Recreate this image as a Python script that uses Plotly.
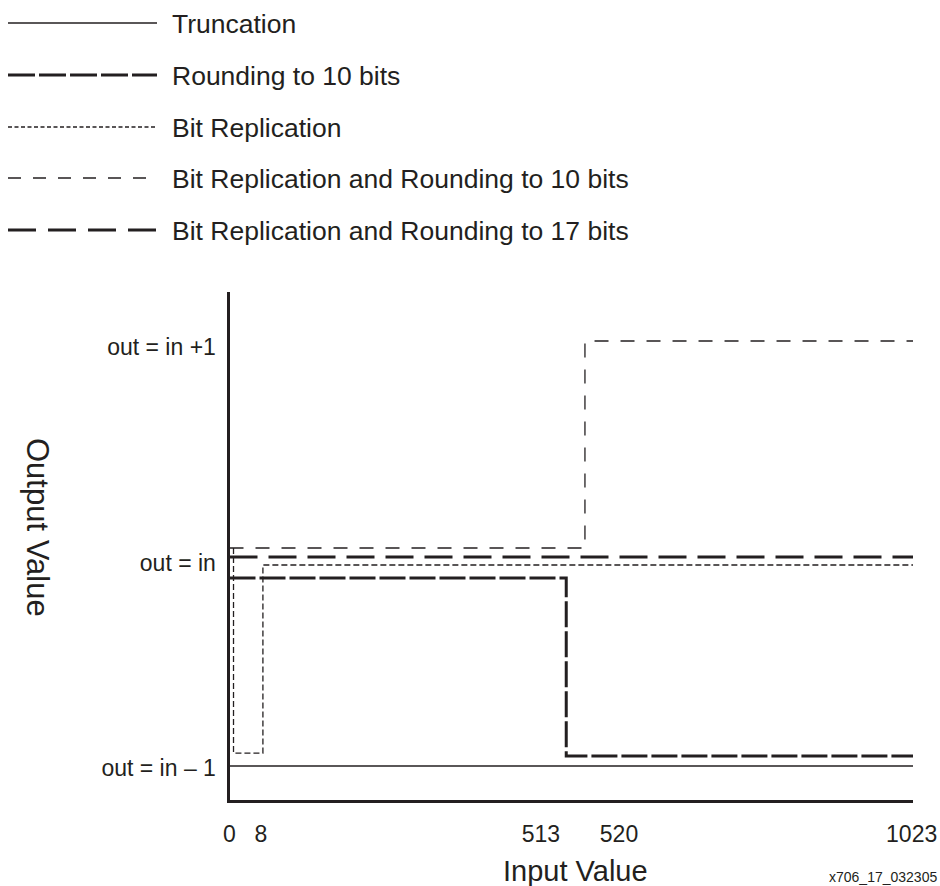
import plotly.graph_objects as go

# ---------------- data (schematic values) ----------------
series_names = [
    "Truncation",
    "Rounding to 10 bits",
    "Bit Replication",
    "Bit Replication and Rounding to 10 bits",
    "Bit Replication and Rounding to 17 bits",
]

truncation_x = [0, 1023]
truncation_y = [-1.0, -1.0]

rounding10_x = [0, 504, 504, 1023]
rounding10_y = [-0.115, -0.115, -0.953, -0.953]

bitrep_x = [6, 6, 50, 50, 1023]
bitrep_y = [0.026, -0.939, -0.939, -0.054, -0.054]

bitrep_r10_x = [0, 532, 532, 1023]
bitrep_r10_y = [0.026, 0.026, 1.0, 1.0]

bitrep_r17_x = [0, 1023]
bitrep_r17_y = [-0.016, -0.016]

x_tick_vals = [0, 47, 466, 583, 1021]
x_tick_text = ["0", "8", "513", "520", "1023"]

y_tick_vals = [-1.01, -0.045, 0.972]
y_tick_text = ["out = in \u2013 1", "out = in", "out = in +1"]

# ---------------- styling ----------------
W, H = 940, 886
INK = "#231f20"
FONT = "Liberation Sans, Arial, Helvetica, sans-serif"

plot_styles = [
    dict(width=1.5, dash="solid"),
    dict(width=3, dash="26px,4px"),
    dict(width=1.3, dash="6px,3px"),
    dict(width=1.3, dash="14px,12px"),
    dict(width=3, dash="28px,11px"),
]
legend_styles = [
    dict(width=1.5, dash="solid"),
    dict(width=3, dash="27px,4px"),
    dict(width=1.3, dash="4px,2.5px"),
    dict(width=1.3, dash="13px,12px"),
    dict(width=3, dash="28px,12px"),
]

xs = [truncation_x, rounding10_x, bitrep_x, bitrep_r10_x, bitrep_r17_x]
ys = [truncation_y, rounding10_y, bitrep_y, bitrep_r10_y, bitrep_r17_y]

fig = go.Figure()
for name, x, y, st in zip(series_names, xs, ys, plot_styles):
    fig.add_trace(go.Scatter(
        x=x, y=y, mode="lines", name=name, showlegend=False,
        line=dict(color=INK, width=st["width"], dash=st["dash"]),
        hoverinfo="skip", cliponaxis=False,
    ))

def px_x(p):
    return p / W

def px_y(p):
    return 1 - p / H

# manual legend (long sample lines)
legend_rows = [23, 75, 127, 178, 230]
shapes = []
annotations = []
for name, st, row in zip(series_names, legend_styles, legend_rows):
    shapes.append(dict(
        type="line", xref="paper", yref="paper",
        x0=px_x(8), x1=px_x(157), y0=px_y(row), y1=px_y(row),
        line=dict(color=INK, width=st["width"], dash=st["dash"]),
    ))
    annotations.append(dict(
        text=name, xref="paper", yref="paper", x=px_x(170), y=px_y(row + 1),
        xanchor="left", yanchor="middle", showarrow=False,
        font=dict(family=FONT, size=26.5, color=INK),
    ))

annotations.append(dict(
    text="Input Value", xref="paper", yref="paper", x=px_x(575), y=px_y(871),
    xanchor="center", yanchor="middle", showarrow=False,
    font=dict(family=FONT, size=29, color=INK),
))
annotations.append(dict(
    text="Output Value", xref="paper", yref="paper", x=px_x(38), y=px_y(527),
    xanchor="center", yanchor="middle", showarrow=False, textangle=90,
    font=dict(family=FONT, size=31, color=INK),
))
annotations.append(dict(
    text="x706_17_032305", xref="paper", yref="paper", x=px_x(939), y=px_y(877),
    xanchor="right", yanchor="middle", showarrow=False,
    font=dict(family=FONT, size=14, color=INK),
))

fig.update_layout(
    width=W, height=H, autosize=False,
    margin=dict(l=0, r=0, t=0, b=0, pad=0),
    paper_bgcolor="white", plot_bgcolor="white",
    showlegend=False,
    font=dict(family=FONT, color=INK),
    shapes=shapes, annotations=annotations,
    xaxis=dict(
        domain=[229.5 / W, 913 / W], range=[0, 1023],
        showline=True, linewidth=3, linecolor=INK,
        showgrid=False, zeroline=False, ticks="",
        tickmode="array", tickvals=x_tick_vals, ticktext=x_tick_text,
        tickfont=dict(family=FONT, size=23, color=INK),
        ticklabelstandoff=12, automargin=False, fixedrange=True,
    ),
    yaxis=dict(
        domain=[(H - 799.5) / H, (H - 292) / H], range=[-1.1576, 1.2306],
        showline=True, linewidth=3, linecolor=INK,
        showgrid=False, zeroline=False, ticks="",
        tickmode="array", tickvals=y_tick_vals, ticktext=y_tick_text,
        tickfont=dict(family=FONT, size=23, color=INK),
        ticklabelstandoff=6, automargin=False, fixedrange=True,
    ),
)

fig.write_html("out.html", config={"displayModeBar": False},
               post_script="document.body.style.margin='0';")
